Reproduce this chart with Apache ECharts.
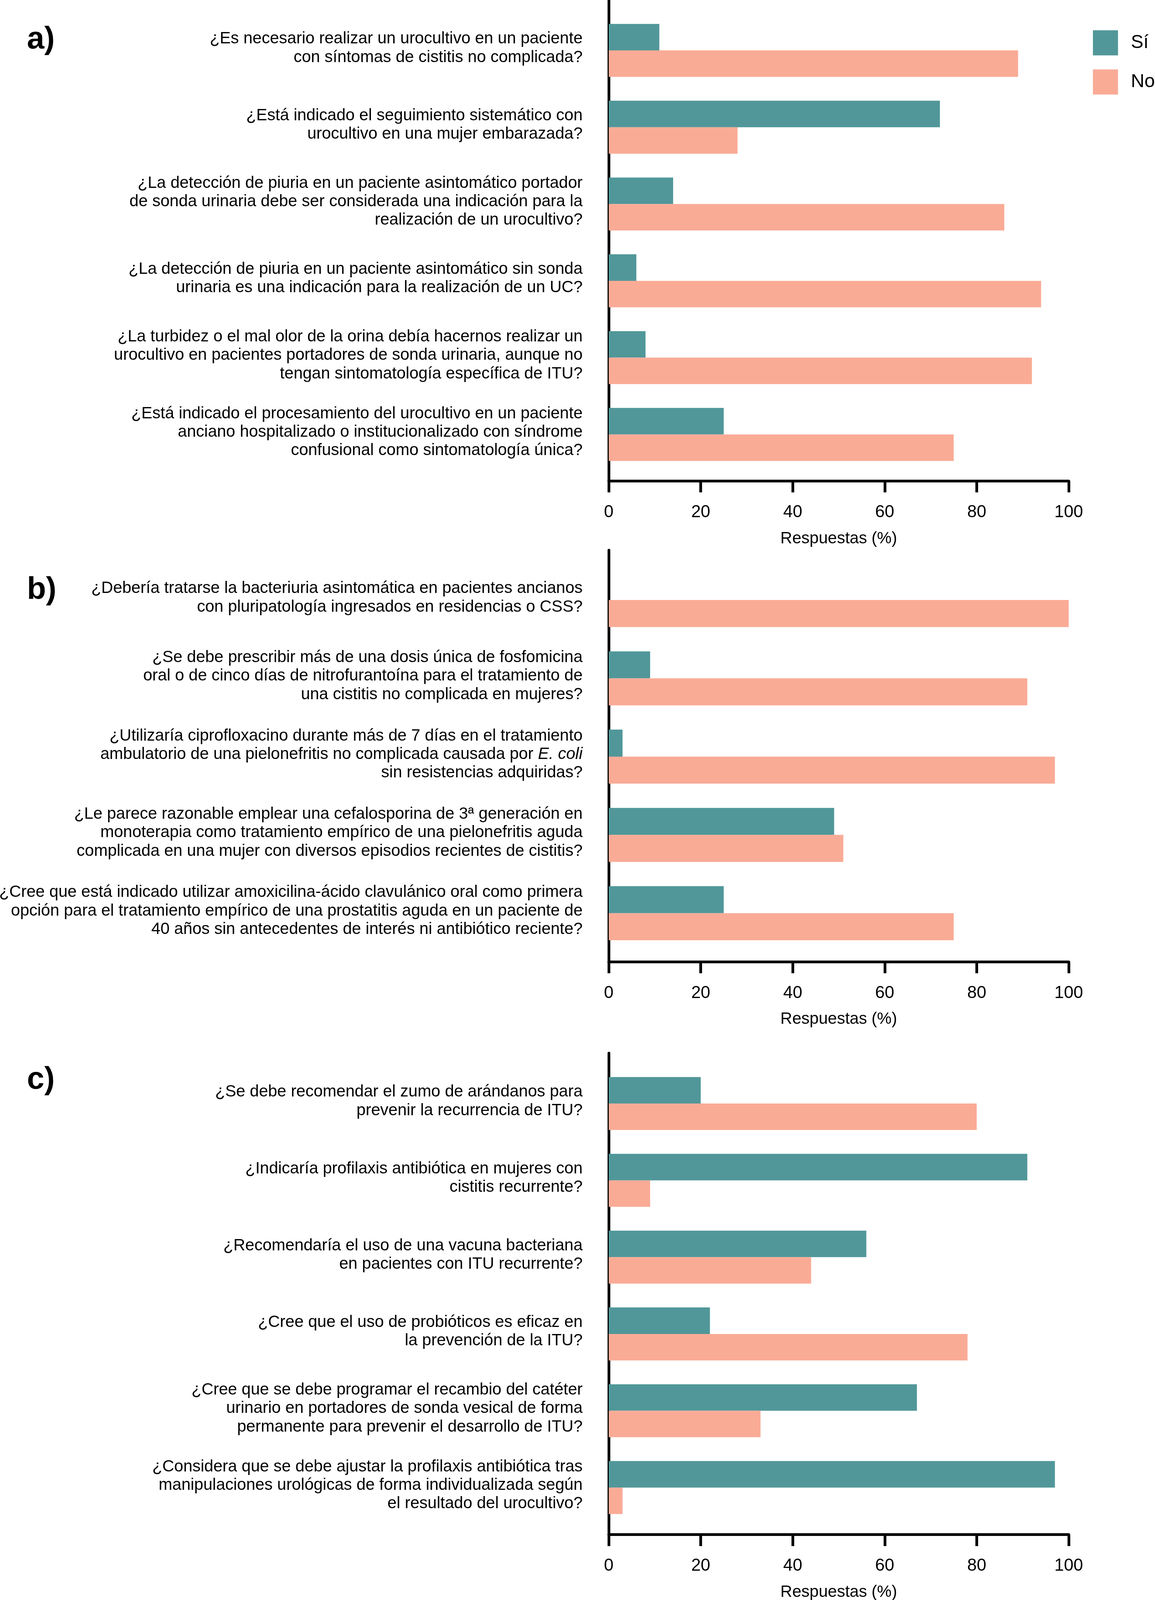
<!DOCTYPE html>
<html>
<head>
<meta charset="utf-8">
<script src="https://cdn.jsdelivr.net/npm/echarts@6/dist/echarts.min.js"></script>
<style>
html,body{margin:0;padding:0;background:#fff;overflow:hidden;}
#chart{width:100vw;height:100vh;}
</style>
</head>
<body>
<div id="chart"></div>
<script>
// ---------- Data ----------
var seriesNames = ['Sí', 'No'];
var xTicks = [0, 20, 40, 60, 80, 100];

var catsA = [
  '¿Es necesario realizar un urocultivo en un paciente\ncon síntomas de cistitis no complicada?',
  '¿Está indicado el seguimiento sistemático con\nurocultivo en una mujer embarazada?',
  '¿La detección de piuria en un paciente asintomático portador\nde sonda urinaria debe ser considerada una indicación para la\nrealización de un urocultivo?',
  '¿La detección de piuria en un paciente asintomático sin sonda\nurinaria es una indicación para la realización de un UC?',
  '¿La turbidez o el mal olor de la orina debía hacernos realizar un\nurocultivo en pacientes portadores de sonda urinaria, aunque no\ntengan sintomatología específica de ITU?',
  '¿Está indicado el procesamiento del urocultivo en un paciente\nanciano hospitalizado o institucionalizado con síndrome\nconfusional como sintomatología única?'
];
var siA = [11, 72, 14, 6, 8, 25];
var noA = [89, 28, 86, 94, 92, 75];

var catsB = [
  '¿Debería tratarse la bacteriuria asintomática en pacientes ancianos\ncon pluripatología ingresados en residencias o CSS?',
  '¿Se debe prescribir más de una dosis única de fosfomicina\noral o de cinco días de nitrofurantoína para el tratamiento de\nuna cistitis no complicada en mujeres?',
  '¿Utilizaría ciprofloxacino durante más de 7 días en el tratamiento\nambulatorio de una pielonefritis no complicada causada por E. coli\nsin resistencias adquiridas?',
  '¿Le parece razonable emplear una cefalosporina de 3ª generación en\nmonoterapia como tratamiento empírico de una pielonefritis aguda\ncomplicada en una mujer con diversos episodios recientes de cistitis?',
  '¿Cree que está indicado utilizar amoxicilina-ácido clavulánico oral como primera\nopción para el tratamiento empírico de una prostatitis aguda en un paciente de\n40 años sin antecedentes de interés ni antibiótico reciente?'
];
var siB = [0, 9, 3, 49, 25];
var noB = [100, 91, 97, 51, 75];

var catsC = [
  '¿Se debe recomendar el zumo de arándanos para\nprevenir la recurrencia de ITU?',
  '¿Indicaría profilaxis antibiótica en mujeres con\ncistitis recurrente?',
  '¿Recomendaría el uso de una vacuna bacteriana\nen pacientes con ITU recurrente?',
  '¿Cree que el uso de probióticos es eficaz en\nla prevención de la ITU?',
  '¿Cree que se debe programar el recambio del catéter\nurinario en portadores de sonda vesical de forma\npermanente para prevenir el desarrollo de ITU?',
  '¿Considera que se debe ajustar la profilaxis antibiótica tras\nmanipulaciones urológicas de forma individualizada según\nel resultado del urocultivo?'
];
var siC = [20, 91, 56, 22, 67, 97];
var noC = [80, 9, 44, 78, 33, 3];

var panelLabels = ['a)', 'b)', 'c)'];
var axisTitle = 'Respuestas (%)';

// ---------- Styling / layout (designed for 2958 x 4333, scaled to the viewport) ----------
var el = document.getElementById('chart');
var VW = el.clientWidth || window.innerWidth || 2958;
var VH = el.clientHeight || window.innerHeight || 4333;
var sx = VW / 2958, sy = VH / 4333;
function X(v) { return v * sx; }
function Y(v) { return v * sy; }
var fs = Math.min(sx, 1) ;
function F(v) { return v * fs; }

var FONT = '"Liberation Sans", Arial, Helvetica, sans-serif';
var COL_SI = '#519799';
var COL_NO = '#FAAB96';
var LEFT = 1559, WIDTH = 1178;

var panels = [
  {cats: catsA, si: siA, no: noA, barTop: 32.5, barH: 1248, frameTop: 0, frameH: 1302.5, labelTop: 65},
  {cats: catsB, si: siB, no: noB, barTop: 1519, barH: 1060, frameTop: 1490, frameH: 1114.7, labelTop: 1556},
  {cats: catsC, si: siC, no: noC, barTop: 2884.5, barH: 1248, frameTop: 2852, frameH: 1304, labelTop: 2883}
];

var grids = [], xAxes = [], yAxes = [], series = [], titles = [];
var lineH = Math.min(50, Y(50) / fs * fs);

panels.forEach(function (p, i) {
  var gBar = i * 2, gFrame = i * 2 + 1;
  grids.push({left: X(LEFT), width: X(WIDTH), top: Y(p.barTop), height: Y(p.barH), containLabel: false, outerBoundsMode: 'none'});
  grids.push({left: X(LEFT), width: X(WIDTH), top: Y(p.frameTop), height: Y(p.frameH), containLabel: false, outerBoundsMode: 'none'});

  xAxes.push({gridIndex: gBar, type: 'value', min: 0, max: 100, show: false});
  yAxes.push({
    gridIndex: gBar, type: 'category', data: p.cats, inverse: true,
    axisLine: {show: false}, axisTick: {show: false}, splitLine: {show: false},
    axisLabel: {
      interval: 0, margin: X(67), align: 'right', verticalAlign: 'middle',
      fontSize: F(42), lineHeight: lineH, color: '#000', fontFamily: FONT,
      padding: [0, 0, Y(12), 0],
      formatter: function (v) { return v.replace('E. coli', '{i|E. coli}'); },
      rich: {i: {fontStyle: 'italic', fontSize: F(42), lineHeight: lineH, color: '#000', fontFamily: FONT}}
    }
  });

  xAxes.push({
    gridIndex: gFrame, type: 'value', min: xTicks[0], max: xTicks[xTicks.length - 1], interval: 20,
    axisLine: {show: true, lineStyle: {color: '#000', width: 7}},
    axisTick: {show: true, length: Y(31), lineStyle: {color: '#000', width: 7}},
    axisLabel: {fontSize: F(44), margin: Y(62), color: '#000', fontFamily: FONT},
    splitLine: {show: false},
    name: axisTitle, nameLocation: 'middle', nameGap: Y(134),
    nameTextStyle: {fontSize: F(42), color: '#000', fontFamily: FONT}
  });
  yAxes.push({
    gridIndex: gFrame, type: 'value', min: 0, max: 1,
    axisLine: {show: true, lineStyle: {color: '#000', width: 7}},
    axisTick: {show: false}, axisLabel: {show: false}, splitLine: {show: false}
  });

  series.push({
    name: seriesNames[0], type: 'bar', xAxisIndex: gBar, yAxisIndex: gBar,
    data: p.si, barGap: '0%', barCategoryGap: '31%',
    itemStyle: {color: COL_SI}, silent: true
  });
  series.push({
    name: seriesNames[1], type: 'bar', xAxisIndex: gBar, yAxisIndex: gBar,
    data: p.no, barGap: '0%', barCategoryGap: '31%',
    itemStyle: {color: COL_NO}, silent: true
  });

  titles.push({
    text: panelLabels[i], left: X(69), top: Y(p.labelTop), padding: 0,
    textStyle: {fontSize: F(80), fontWeight: 'bold', color: '#000', fontFamily: FONT, lineHeight: F(80)}
  });
});

var chart = echarts.init(el, null, {renderer: 'canvas', width: VW, height: VH});
chart.setOption({
  backgroundColor: '#fff',
  animation: false,
  title: titles,
  legend: {
    data: seriesNames, orient: 'vertical', left: X(2799), top: Y(82),
    itemWidth: Y(68), itemHeight: Y(68), itemGap: Y(38), icon: 'rect', selectedMode: false,
    padding: 0,
    textStyle: {fontSize: F(48), color: '#000', fontFamily: FONT, padding: [0, 0, 0, X(28)]}
  },
  grid: grids,
  xAxis: xAxes,
  yAxis: yAxes,
  series: series
});
</script>
</body>
</html>
